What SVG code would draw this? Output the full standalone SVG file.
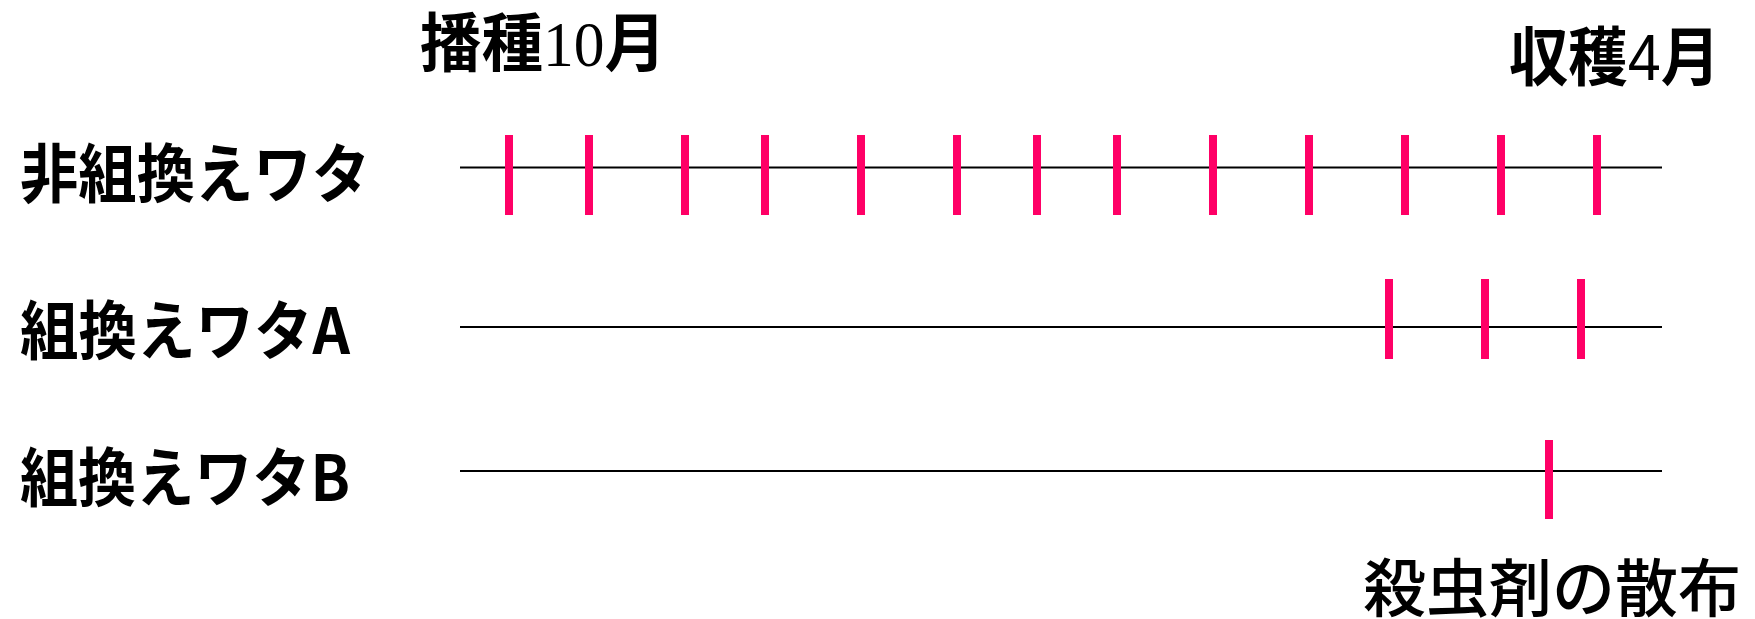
<svg xmlns="http://www.w3.org/2000/svg" width="1755" height="619" viewBox="0 0 1755 619">
<style>
.bg{fill:#ffffff}
.axis{stroke:#000000;stroke-width:2;fill:none}
.tick{stroke:#ff0066;stroke-width:8;fill:none}
.lbl{font-family:"Noto Sans CJK JP","Noto Sans CJK SC",sans-serif;font-size:64px;font-weight:bold;fill:#000000}
.ttl{font-family:"Noto Sans CJK JP","Noto Sans CJK SC",sans-serif;font-size:64px;font-weight:bold;fill:#000000}
.num{font-family:"Liberation Serif",serif;font-weight:normal}
.num2{font-family:"Liberation Sans",sans-serif;font-weight:normal}
.note{font-family:"Noto Sans CJK JP","Noto Sans CJK SC",sans-serif;font-size:63px;font-weight:500;fill:#000000}
</style>
<rect class="bg" x="0" y="0" width="1755" height="619"/>
<g id="title-sowing"><text class="ttl" x="420" y="66" textLength="246" lengthAdjust="spacingAndGlyphs">播種<tspan class="num">10</tspan>月</text></g>
<g id="title-harvest"><text class="ttl" x="1509" y="80" textLength="211" lengthAdjust="spacingAndGlyphs">収穫<tspan class="num2">4</tspan>月</text></g>
<g id="row-nongm">
<text class="lbl" x="20" y="197" textLength="350" lengthAdjust="spacingAndGlyphs">非組換えワタ</text>
</g>
<g id="row-gmA">
<text class="lbl" x="20" y="354" textLength="330" lengthAdjust="spacingAndGlyphs">組換えワタA</text>
</g>
<g id="row-gmB">
<text class="lbl" x="20" y="501" textLength="330" lengthAdjust="spacingAndGlyphs">組換えワタB</text>
</g>
<g id="note-spray"><text class="note" x="1363" y="611">殺虫剤の散布</text></g>
<g id="connectors">
<line class="axis" x1="460" y1="167.5" x2="1662" y2="167.5"/>
<line class="axis" x1="460" y1="327" x2="1662" y2="327"/>
<line class="axis" x1="460" y1="471" x2="1662" y2="471"/>
<g id="ticks-nongm">
<line class="tick" x1="509" y1="135" x2="509" y2="215"/>
<line class="tick" x1="589" y1="135" x2="589" y2="215"/>
<line class="tick" x1="685" y1="135" x2="685" y2="215"/>
<line class="tick" x1="765" y1="135" x2="765" y2="215"/>
<line class="tick" x1="861" y1="135" x2="861" y2="215"/>
<line class="tick" x1="957" y1="135" x2="957" y2="215"/>
<line class="tick" x1="1037" y1="135" x2="1037" y2="215"/>
<line class="tick" x1="1117" y1="135" x2="1117" y2="215"/>
<line class="tick" x1="1213" y1="135" x2="1213" y2="215"/>
<line class="tick" x1="1309" y1="135" x2="1309" y2="215"/>
<line class="tick" x1="1405" y1="135" x2="1405" y2="215"/>
<line class="tick" x1="1501" y1="135" x2="1501" y2="215"/>
<line class="tick" x1="1597" y1="135" x2="1597" y2="215"/>
</g>
<g id="ticks-gmA">
<line class="tick" x1="1389" y1="279" x2="1389" y2="359"/>
<line class="tick" x1="1485" y1="279" x2="1485" y2="359"/>
<line class="tick" x1="1581" y1="279" x2="1581" y2="359"/>
</g>
<g id="ticks-gmB">
<line class="tick" x1="1549" y1="440" x2="1549" y2="519"/>
</g>
</g>
</svg>
